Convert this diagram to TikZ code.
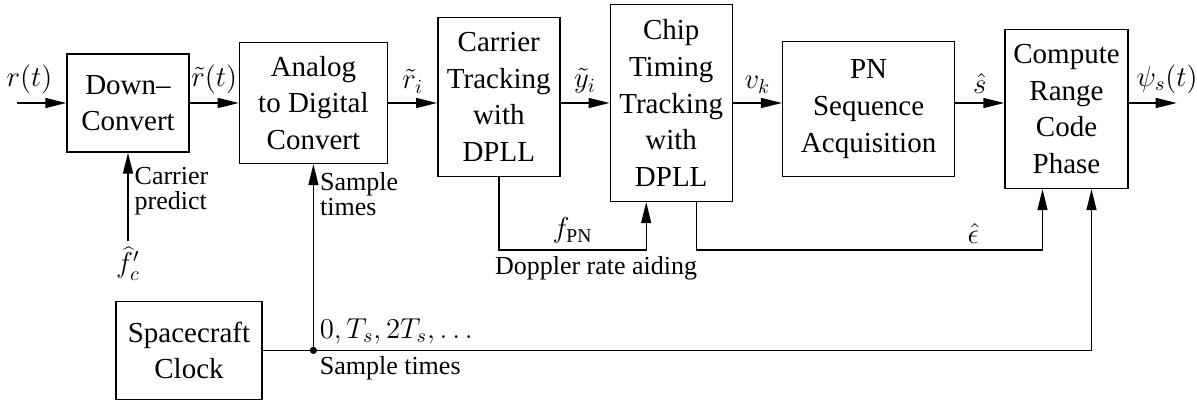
\documentclass[tikz,border=0pt]{standalone}
\usepackage{fontspec}
\setmainfont{Liberation Serif}
\usetikzlibrary{arrows.meta, positioning, calc}
\newcommand{\blkfont}{\fontsize{14.5}{18.3}\selectfont}
\newcommand{\lblfont}{\fontsize{13}{12.5}\selectfont}
\newcommand{\mlblfont}{\fontsize{14}{14}\selectfont}
\tikzset{
    blk/.style={rectangle, draw, line width=0.7pt, align=center, inner sep=0pt, font=\blkfont},
    lbl/.style={font=\lblfont, inner sep=3pt},
    mlbl/.style={font=\mlblfont, inner sep=3pt},
    arrow/.style={-{Triangle[length=10.5pt, width=5pt]}, line width=0.7pt},
    link/.style={line width=0.7pt}
}
\begin{document}
\begin{tikzpicture}[node distance=24.5pt]
    \useasboundingbox (-64pt,-148.5pt) rectangle (534.5pt,51.5pt);
    % Blocks
    \node [blk, minimum width=61pt, minimum height=49pt] (dc) at (0,0) {Down--\\Convert};
    \node [blk, right=of dc, minimum width=74pt, minimum height=60.5pt] (ad) {Analog\\to Digital\\Convert};
    \node [blk, right=of ad, yshift=3pt, minimum width=61pt, minimum height=79.5pt] (car) {Carrier\\Tracking\\with\\DPLL};
    \node [blk, right=of car, yshift=-3pt, minimum width=61pt, minimum height=98.5pt] (chip) {Chip\\Timing\\Tracking\\with\\DPLL};
    \node [blk, right=of chip, yshift=-3pt, minimum width=86pt, minimum height=67.5pt] (pn) {PN\\Sequence\\Acquisition};
    \node [blk, right=of pn, minimum width=61.5pt, minimum height=79.5pt] (cmp) {Compute\\Range\\Code\\Phase};
    \node [blk, below=74pt of dc, xshift=30.5pt, minimum width=73pt, minimum height=49pt] (clk) {Spacecraft\\Clock};
    \node [mlbl, below=44pt of dc] (fc) {$\widehat{f}'_c$};

    % Helper coordinates
    \coordinate [left=24.5pt of dc.west] (in);
    \coordinate (out) at ($(chip.east -| cmp.east)+(24pt,0)$);
    \coordinate (cdop) at ([xshift=-12.5pt]chip.south);
    \coordinate (cout) at ([xshift=12.5pt]chip.south);
    \coordinate (cin) at ([xshift=-12pt]cmp.south);
    \coordinate (cclk) at ([xshift=12.5pt]cmp.south);
    \coordinate (fbk) at ([yshift=-24pt]chip.south);
    \coordinate (tap) at (ad.south |- clk.east);

    % Signal path
    \draw [arrow] (in) -- node [mlbl, pos=.25, above=1.5pt] {$r(t)$} (dc);
    \draw [arrow] (dc) -- node [mlbl, above=1.5pt] {$\tilde{r}(t)$} (ad);
    \draw [arrow] (ad.east) -- node [mlbl, above=1.5pt] {$\tilde{r}_i$} (ad.east -| car.west);
    \draw [arrow] (car.east |- chip.west) -- node [mlbl, above=1.5pt] {$\tilde{y}_i$} (chip.west);
    \draw [arrow] (chip.east) -- node [mlbl, above=1.5pt] {$v_k$} (chip.east -| pn.west);
    \draw [arrow] (pn.east |- chip.east) -- node [mlbl, above=1.5pt] {$\hat{s}$} (chip.east -| cmp.west);
    \draw [arrow] (chip.east -| cmp.east) -- node [mlbl, pos=.8, above=1.5pt] {$\psi_s(t)$} (out);

    % Aiding and feedback
    \draw [arrow] (fc) -- node [lbl, pos=.56, right, align=left] {Carrier\\predict} (dc);
    \draw [arrow] (car.south) |- node [mlbl, pos=.75, above] {$f_{\mathrm{PN}}$}
        node [lbl, pos=.83, below] {Doppler rate aiding} (cdop |- fbk) -- (cdop);
    \draw [arrow] (cout) |- node [mlbl, pos=.9, above] {$\hat{\epsilon}$} (cin |- fbk) -- (cin);

    % Clock distribution
    \draw [arrow] (clk) -| (cclk);
    \draw [arrow] (tap) -- node [lbl, pos=.84, right, align=left] {Sample\\times} (ad);
    \fill (tap) circle (1.8pt);
    \node [mlbl, above right] (tsv) at (tap) {$0, T_s, 2T_s, \ldots$};
    \node [lbl, below right] (stm) at (tap) {Sample times};
\end{tikzpicture}
\end{document}
